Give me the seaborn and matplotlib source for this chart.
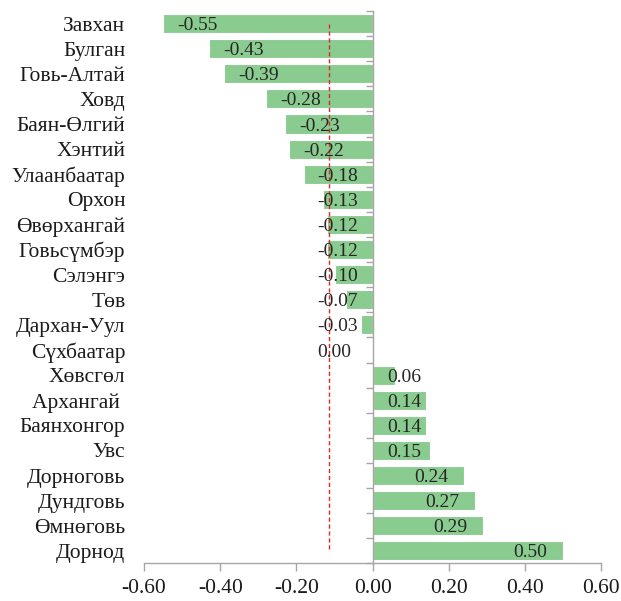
"""
Horizontal bar chart of aimag values (recreation).
"""

import matplotlib
matplotlib.use("Agg")
import matplotlib.pyplot as plt
import seaborn as sns
import numpy as np

# data
regions = ["Завхан", "Булган", "Говь-Алтай", "Ховд", "Баян-Өлгий", "Хэнтий",
           "Улаанбаатар", "Орхон", "Өвөрхангай", "Говьсүмбэр", "Сэлэнгэ", "Төв",
           "Дархан-Уул", "Сүхбаатар", "Хөвсгөл", "Архангай ", "Баянхонгор", "Увс",
           "Дорноговь", "Дундговь", "Өмнөговь", "Дорнод"]
values = [-0.55, -0.43, -0.39, -0.28, -0.23, -0.22, -0.18, -0.13, -0.12, -0.12,
          -0.10, -0.07, -0.03, 0.00, 0.06, 0.14, 0.14, 0.15, 0.24, 0.27, 0.29, 0.50]
xticks = [-0.60, -0.40, -0.20, 0.00, 0.20, 0.40, 0.60]
ref_line = -0.114

bar_color = "#8ACC8F"
axis_gray = "#A6A6A6"

sns.set_style("white")
plt.rcParams['font.family'] = ['Liberation Serif', 'DejaVu Serif']

fig = plt.figure(figsize=(6.21, 6.01), dpi=100)
ax = fig.add_axes([0.232, 0.0624, 0.736, 0.9193])

sns.barplot(x=values, y=regions, color=bar_color, saturation=1, width=0.76,
            edgecolor="white", linewidth=0.8, orient="h", ax=ax)

# reference line
ax.vlines(ref_line, 0, len(regions) - 1, colors="#E0262A", linestyles=(0, (3, 2)),
          linewidth=1.0, zorder=3)

# value labels
for i, v in enumerate(values):
    if v <= 0:
        x = min(v + 0.037, -0.146)
        ha = "left"
    else:
        x = max(v - 0.042, 0.127)
        ha = "right"
    ax.text(x, i, f"{v:.2f}", ha=ha, va="center_baseline", fontsize=14,
            color="#262626", zorder=4)

ax.set_xlim(-0.6, 0.6)
ax.set_ylim(len(regions) - 0.5, -0.5)
ax.set_xticks(xticks)
ax.set_xticklabels([f"{t:.2f}" for t in xticks], fontsize=15.5)

# y axis sits at zero, labels pushed out to the left edge
for s in ["top", "right"]:
    ax.spines[s].set_visible(False)
ax.spines["left"].set_position(("data", 0))
ax.spines["left"].set_color(axis_gray)
ax.spines["bottom"].set_color(axis_gray)
ax.spines["left"].set_linewidth(1.0)
ax.spines["bottom"].set_linewidth(1.0)

ax.set_yticks(np.arange(len(regions) + 1) - 0.5, minor=True)
ax.tick_params(axis="y", which="major", left=True, length=0, pad=178,
               labelsize=15.5, labelcolor="#1a1a1a")
ax.tick_params(axis="y", which="minor", left=True, length=5, direction="out",
               color=axis_gray, width=1.0)
ax.tick_params(axis="x", which="major", bottom=True, length=6, direction="out",
               color=axis_gray, width=1.0, labelcolor="#1a1a1a", pad=5)
ax.set_xlabel("")
ax.set_ylabel("")

plt.savefig("out.png", dpi=100)
plt.close()
